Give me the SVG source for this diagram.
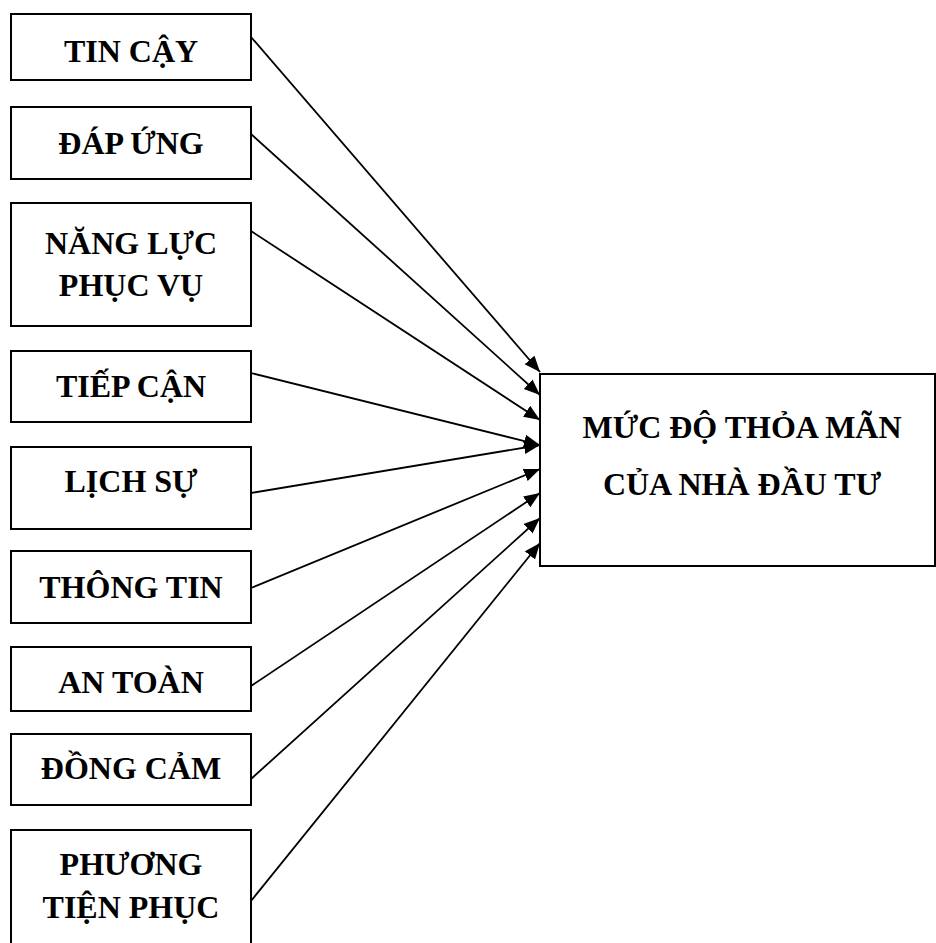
<svg xmlns="http://www.w3.org/2000/svg" width="936" height="943" viewBox="0 0 936 943">
  <style>
    .box { fill: #ffffff; stroke: #000000; stroke-width: 2; }
    .lbl { font-family: "Liberation Serif", "Times New Roman", serif; font-weight: bold; font-size: 32px; fill: #000000; text-anchor: middle; }
    .conn { stroke: #000000; stroke-width: 1.8; fill: none; marker-end: url(#arrow); }
  </style>
  <defs>
    <marker id="arrow" markerUnits="userSpaceOnUse" markerWidth="17" markerHeight="14" refX="16" refY="6.5" orient="auto">
      <path d="M0,0 L16,6.5 L0,13 z" fill="#000000"/>
    </marker>
  </defs>
  <rect x="0" y="0" width="936" height="943" fill="#ffffff"/>

  <g id="connectors">
    <line class="conn" x1="251" y1="37" x2="540" y2="372"/>
    <line class="conn" x1="251" y1="134" x2="540" y2="395"/>
    <line class="conn" x1="251" y1="231" x2="540" y2="420"/>
    <line class="conn" x1="251" y1="373" x2="540" y2="445"/>
    <line class="conn" x1="251" y1="493" x2="540" y2="445"/>
    <line class="conn" x1="251" y1="588" x2="540" y2="469"/>
    <line class="conn" x1="251" y1="686" x2="540" y2="493"/>
    <line class="conn" x1="251" y1="779" x2="540" y2="518"/>
    <line class="conn" x1="251" y1="901" x2="540" y2="543"/>
  </g>

  <g id="tin-cay">
    <rect class="box" x="11" y="14" width="240" height="66"/>
    <text class="lbl" x="131" y="62">TIN CẬY</text>
  </g>
  <g id="dap-ung">
    <rect class="box" x="11" y="107" width="240" height="72"/>
    <text class="lbl" x="131" y="154">ĐÁP ỨNG</text>
  </g>
  <g id="nang-luc-phuc-vu">
    <rect class="box" x="11" y="203" width="240" height="123"/>
    <text class="lbl" x="131" y="254">NĂNG LỰC</text>
    <text class="lbl" x="131" y="296">PHỤC VỤ</text>
  </g>
  <g id="tiep-can">
    <rect class="box" x="11" y="351" width="240" height="71"/>
    <text class="lbl" x="131" y="397">TIẾP CẬN</text>
  </g>
  <g id="lich-su">
    <rect class="box" x="11" y="447" width="240" height="82"/>
    <text class="lbl" x="131" y="492">LỊCH SỰ</text>
  </g>
  <g id="thong-tin">
    <rect class="box" x="11" y="551" width="240" height="72"/>
    <text class="lbl" x="131" y="598">THÔNG TIN</text>
  </g>
  <g id="an-toan">
    <rect class="box" x="11" y="647" width="240" height="64"/>
    <text class="lbl" x="131" y="693">AN TOÀN</text>
  </g>
  <g id="dong-cam">
    <rect class="box" x="11" y="734" width="240" height="71"/>
    <text class="lbl" x="131" y="779">ĐỒNG CẢM</text>
  </g>
  <g id="phuong-tien-phuc-vu">
    <rect class="box" x="11" y="830" width="240" height="130"/>
    <text class="lbl" x="131" y="875">PHƯƠNG</text>
    <text class="lbl" x="131" y="918">TIỆN PHỤC</text>
  </g>

  <g id="muc-do-thoa-man">
    <rect class="box" x="540" y="374" width="395" height="192"/>
    <text class="lbl" x="742" y="438">MỨC ĐỘ THỎA MÃN</text>
    <text class="lbl" x="742" y="495">CỦA NHÀ ĐẦU TƯ</text>
  </g>
</svg>
